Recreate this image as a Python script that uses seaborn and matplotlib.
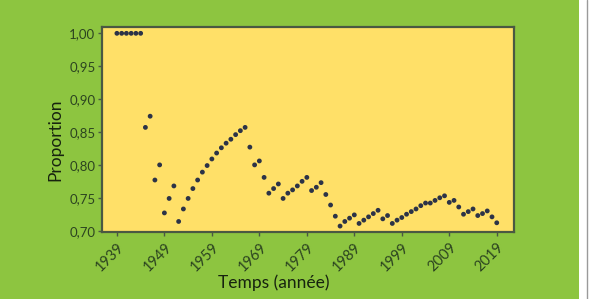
import matplotlib
matplotlib.use("Agg")
import matplotlib.pyplot as plt
import seaborn as sns
import pandas as pd
from matplotlib.patches import Rectangle
from matplotlib.lines import Line2D

years = list(range(1939, 2020))
proportion = [
    1.000, 1.000, 1.000, 1.000, 1.000, 1.000,
    0.857, 0.874, 0.777, 0.800, 0.727, 0.749, 0.768, 0.714, 0.733, 0.749,
    0.764, 0.777, 0.789, 0.799, 0.809, 0.818, 0.826, 0.833, 0.839, 0.846,
    0.852, 0.857, 0.827, 0.800, 0.806, 0.781, 0.757, 0.764, 0.771, 0.749,
    0.757, 0.762, 0.768, 0.775, 0.781, 0.761, 0.766, 0.773, 0.755, 0.739,
    0.722, 0.707, 0.714, 0.719, 0.724, 0.711, 0.716, 0.721, 0.726, 0.731,
    0.718, 0.723, 0.711, 0.716, 0.720, 0.725, 0.729, 0.733, 0.738, 0.742,
    0.742, 0.746, 0.750, 0.753, 0.743, 0.746, 0.736, 0.725, 0.729, 0.733,
    0.723, 0.726, 0.730, 0.721, 0.712,
]
x_ticks = [1939, 1949, 1959, 1969, 1979, 1989, 1999, 2009, 2019]
y_ticks = [0.70, 0.75, 0.80, 0.85, 0.90, 0.95, 1.00]
y_tick_labels = ["0,70", "0,75", "0,80", "0,85", "0,90", "0,95", "1,00"]
x_label = "Temps (année)"
y_label = "Proportion"

df = pd.DataFrame({"annee": years, "proportion": proportion})

sns.set_style("ticks")
plt.rcParams["font.family"] = ["Lato", "DejaVu Sans"]

GREEN = "#8dc540"
YELLOW = "#ffe068"
TICKTXT = "#2c4420"
SPINE = "#4a5842"
LABEL = "#17230f"

fig = plt.figure(figsize=(5.89, 2.99), dpi=100, facecolor="white")
fig.patches.append(Rectangle((0, 0), 578.5 / 589, 1, transform=fig.transFigure,
                             facecolor=GREEN, edgecolor="none", zorder=-10))
fig.lines.append(Line2D([587 / 589, 587 / 589], [0, 1], transform=fig.transFigure,
                        color="#9a9a9a", lw=1))

ax = fig.add_axes([0.1727, 0.2241, 0.7005, 0.6856])
ax.set_facecolor(YELLOW)
sns.scatterplot(data=df, x="annee", y="proportion", ax=ax, s=12,
                color="#2c3347", edgecolor="none", linewidth=0)

ax.set_xlim(1935.8, 2022.7)
ax.set_ylim(0.698, 1.0096)
ax.set_xticks(x_ticks)
ax.set_xticklabels([str(t) for t in x_ticks], rotation=45, ha="right",
                   rotation_mode="anchor", fontsize=10.5, color=TICKTXT)
ax.set_yticks(y_ticks)
ax.set_yticklabels(y_tick_labels, fontsize=9.5, color=TICKTXT)
ax.tick_params(axis="both", direction="out", length=3, width=1, color=SPINE, pad=1.5)
ax.tick_params(axis="x", pad=3)

for sp in ax.spines.values():
    sp.set_color(SPINE)
    sp.set_linewidth(1.6)

ax.set_xlabel(x_label, fontsize=12.5, color=LABEL)
ax.set_ylabel(y_label, fontsize=12.5, color=LABEL)
ax.xaxis.set_label_coords(0.417, -0.205)
ax.yaxis.set_label_coords(-0.094, 0.449)

fig.savefig("out.png", dpi=100, facecolor=fig.get_facecolor())
